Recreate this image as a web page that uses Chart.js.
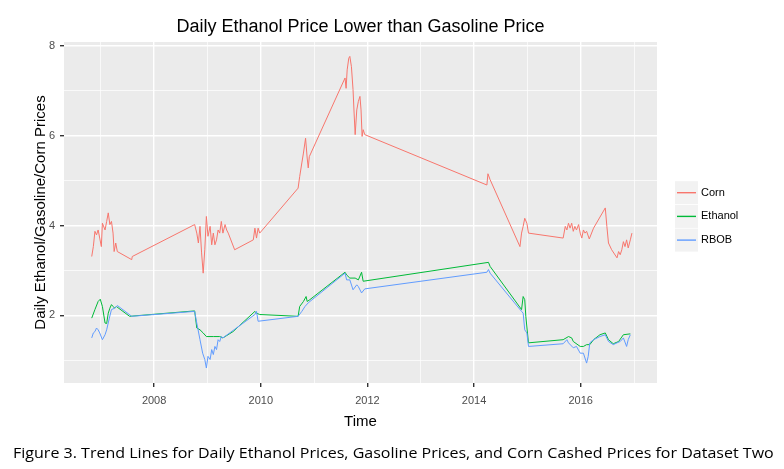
<!DOCTYPE html>
<html>
<head>
<meta charset="utf-8">
<script src="https://cdn.jsdelivr.net/npm/chart.js@4.4.0/dist/chart.umd.min.js"></script>
<style>
  body { margin: 0; background: #fff; }
  #wrap { position: relative; width: 784px; height: 469px; }
  #caption {
    position: absolute; left: 13px; top: 446px;
    font-family: "Open Sans", "Noto Sans", sans-serif; font-size: 14px; line-height: 1;
    color: #000; white-space: nowrap; transform-origin: 0 0;
  }
</style>
</head>
<body>
<div id="wrap">
  <canvas id="priceChart" width="784" height="469"></canvas>
  <span id="caption">Figure 3. Trend Lines for Daily Ethanol Prices, Gasoline Prices, and Corn Cashed Prices for Dataset Two</span>
</div>
<script>
// values (x = decimal year)
const cornDates = [2006.83, 2006.86, 2006.89, 2006.92, 2006.95, 2006.98, 2007.01, 2007.03, 2007.08, 2007.11, 2007.14, 2007.17, 2007.20, 2007.23, 2007.25, 2007.28, 2007.31, 2007.58, 2007.59,
  2008.76, 2008.80, 2008.83, 2008.86, 2008.89, 2008.92, 2008.95, 2008.98, 2009.01, 2009.05, 2009.08, 2009.11, 2009.14, 2009.17, 2009.20, 2009.23, 2009.26, 2009.29, 2009.33, 2009.36, 2009.39, 2009.51, 2009.86, 2009.89, 2009.92, 2009.95, 2009.98,
  2010.70, 2010.73, 2010.77, 2010.80, 2010.84, 2010.87, 2010.89, 2010.91, 2011.58, 2011.60, 2011.62, 2011.65, 2011.67, 2011.70, 2011.73, 2011.75, 2011.77, 2011.80, 2011.83, 2011.86, 2011.88, 2011.90, 2011.92, 2011.95,
  2014.24, 2014.26, 2014.30, 2014.86, 2014.89, 2014.92, 2014.95, 2014.99, 2015.02, 2015.67, 2015.71, 2015.74, 2015.77, 2015.80, 2015.83, 2015.86, 2015.89, 2015.92, 2015.96, 2015.99,
  2016.02, 2016.05, 2016.08, 2016.11, 2016.16, 2016.24, 2016.46, 2016.49, 2016.52, 2016.58, 2016.68, 2016.71, 2016.74, 2016.77, 2016.80, 2016.83, 2016.86, 2016.89, 2016.93, 2016.96];
const cornValues = [3.31, 3.53, 3.87, 3.79, 3.90, 3.72, 3.53, 4.05, 3.90, 4.09, 4.28, 4.02, 4.09, 3.83, 3.42, 3.61, 3.42, 3.24, 3.31,
  4.02, 3.83, 3.61, 3.98, 3.39, 2.94, 3.46, 4.20, 3.76, 3.98, 3.57, 3.83, 3.57, 3.68, 3.90, 3.83, 4.09, 3.83, 4.02, 3.90, 3.83, 3.46, 3.68, 3.94, 3.72, 3.94, 3.83,
  4.83, 5.09, 5.39, 5.61, 5.94, 5.50, 5.28, 5.53, 7.28, 7.05, 7.46, 7.72, 7.76, 7.53, 7.02, 6.50, 6.02, 6.57, 6.76, 6.87, 6.57, 5.98, 6.13, 6.02,
  4.90, 5.15, 5.02, 3.53, 3.83, 3.98, 4.16, 4.05, 3.83, 3.72, 3.98, 3.90, 4.05, 3.94, 4.05, 3.87, 3.98, 3.90, 4.02, 3.83,
  3.72, 3.90, 3.83, 3.87, 3.70, 3.94, 4.39, 3.98, 3.61, 3.46, 3.28, 3.42, 3.35, 3.46, 3.64, 3.53, 3.68, 3.50, 3.68, 3.83];

const ethDates = [2006.83, 2006.89, 2006.95, 2006.99, 2007.03, 2007.08, 2007.11, 2007.14, 2007.17, 2007.20, 2007.23, 2007.26, 2007.29, 2007.54,
  2008.76, 2008.80, 2008.86, 2008.92, 2008.98, 2009.11, 2009.23, 2009.29, 2009.48, 2009.89, 2009.92, 2009.98,
  2010.70, 2010.73, 2010.80, 2010.85, 2010.87, 2010.92, 2011.58, 2011.61, 2011.67, 2011.77, 2011.83, 2011.89, 2011.92,
  2014.27, 2014.30, 2014.89, 2014.92, 2014.95, 2014.97, 2015.02, 2015.67, 2015.77, 2015.83, 2015.86, 2015.99,
  2016.05, 2016.11, 2016.17, 2016.24, 2016.36, 2016.46, 2016.52, 2016.61, 2016.71, 2016.80, 2016.93];
const ethValues = [1.94, 2.13, 2.31, 2.36, 2.20, 1.83, 1.82, 2.05, 2.16, 2.24, 2.20, 2.16, 2.20, 1.98,
  2.10, 1.72, 1.68, 1.61, 1.53, 1.53, 1.53, 1.50, 1.64, 2.09, 2.05, 2.02,
  1.98, 2.20, 2.31, 2.42, 2.31, 2.35, 2.96, 2.90, 2.83, 2.83, 2.79, 2.96, 2.76,
  3.18, 3.09, 2.13, 2.42, 2.35, 1.98, 1.39, 1.46, 1.53, 1.50, 1.42, 1.31,
  1.31, 1.35, 1.35, 1.46, 1.57, 1.61, 1.46, 1.37, 1.42, 1.57, 1.59];

const rbobDates = [2006.83, 2006.86, 2006.89, 2006.92, 2006.95, 2006.98, 2007.03, 2007.08, 2007.11, 2007.16, 2007.20, 2007.26, 2007.31, 2007.58,
  2008.76, 2008.80, 2008.86, 2008.91, 2008.95, 2008.98, 2009.01, 2009.05, 2009.08, 2009.11, 2009.14, 2009.17, 2009.20, 2009.23, 2009.26, 2009.29, 2009.89, 2009.92, 2009.95,
  2010.70, 2010.77, 2010.83, 2010.89, 2011.58, 2011.61, 2011.67, 2011.73, 2011.80, 2011.83, 2011.89, 2011.95,
  2014.24, 2014.27, 2014.30, 2014.89, 2014.92, 2014.95, 2014.99, 2015.02, 2015.67, 2015.74, 2015.77, 2015.86, 2015.92, 2015.99,
  2016.05, 2016.11, 2016.14, 2016.17, 2016.24, 2016.36, 2016.46, 2016.52, 2016.61, 2016.68, 2016.74, 2016.80, 2016.86, 2016.89, 2016.93];
const rbobValues = [1.50, 1.61, 1.64, 1.72, 1.68, 1.61, 1.46, 1.57, 1.68, 1.94, 2.13, 2.16, 2.22, 1.98,
  2.09, 1.83, 1.46, 1.16, 1.02, 0.83, 1.09, 1.02, 1.24, 1.13, 1.31, 1.24, 1.46, 1.42, 1.53, 1.50, 2.02, 2.09, 1.87,
  1.98, 2.09, 2.20, 2.28, 2.94, 2.79, 2.79, 2.57, 2.68, 2.64, 2.50, 2.59,
  2.96, 3.02, 2.94, 2.09, 2.05, 1.68, 1.61, 1.31, 1.37, 1.46, 1.39, 1.28, 1.31, 1.16,
  1.16, 0.94, 1.09, 1.39, 1.46, 1.53, 1.57, 1.42, 1.35, 1.39, 1.42, 1.50, 1.31, 1.46, 1.57];

const xTicks = [2007, 2008, 2009, 2010, 2011, 2012, 2013, 2014, 2015, 2016, 2017];
const yTicks = [1, 2, 3, 4, 5, 6, 7, 8];

const toPoints = (xs, ys) => xs.map((x, i) => ({x: x, y: ys[i]}));
const isMajor = v => v % 2 === 0;

// grey panel background like ggplot
const panelBg = {
  id: 'panelBg',
  beforeDraw(chart) {
    const {ctx, chartArea: a} = chart;
    ctx.save();
    ctx.fillStyle = '#EBEBEB';
    ctx.fillRect(a.left, a.top, a.right - a.left, a.bottom - a.top);
    ctx.restore();
  }
};

// ggplot style legend with grey key boxes
const keyLegend = {
  id: 'keyLegend',
  afterDraw(chart) {
    const ctx = chart.ctx;
    const x0 = 675, size = 23, step = 23.7, cy0 = 192.7;
    ctx.save();
    chart.data.datasets.forEach((ds, i) => {
      const cy = cy0 + i * step;
      ctx.fillStyle = '#F2F2F2';
      ctx.fillRect(x0, cy - size / 2, size, size);
      ctx.strokeStyle = ds.borderColor;
      ctx.lineWidth = 1.4;
      ctx.beginPath();
      ctx.moveTo(x0 + 2, cy);
      ctx.lineTo(x0 + size - 2, cy);
      ctx.stroke();
      ctx.fillStyle = '#000';
      ctx.font = '11px "Liberation Sans", Arial, sans-serif';
      ctx.textBaseline = 'middle';
      ctx.fillText(ds.label, x0 + size + 3, cy);
    });
    ctx.restore();
  }
};

new Chart(document.getElementById('priceChart'), {
  type: 'line',
  data: {
    datasets: [
      {label: 'Corn', data: toPoints(cornDates, cornValues), borderColor: '#F8766D', order: 2},
      {label: 'Ethanol', data: toPoints(ethDates, ethValues), borderColor: '#00BA38', order: 1},
      {label: 'RBOB', data: toPoints(rbobDates, rbobValues), borderColor: '#619CFF', order: 0}
    ]
  },
  options: {
    responsive: false,
    animation: false,
    layout: {padding: {left: 0, right: 127, top: 0, bottom: 0}},
    elements: {
      line: {borderWidth: 1, tension: 0, fill: false},
      point: {radius: 0, hoverRadius: 0}
    },
    scales: {
      x: {
        type: 'linear',
        min: 2006.31,
        max: 2017.43,
        afterBuildTicks: s => { s.ticks = xTicks.map(v => ({value: v})); },
        afterFit: s => { s.height = 86; },
        border: {display: false},
        grid: {
          color: '#FFFFFF',
          lineWidth: c => (c.tick && isMajor(c.tick.value)) ? 1.4 : 0.7,
          tickColor: c => (c.tick && isMajor(c.tick.value)) ? '#333333' : 'rgba(0,0,0,0)',
          tickLength: 4
        },
        ticks: {
          autoSkip: false,
          maxRotation: 0,
          padding: 7,
          color: '#4D4D4D',
          font: {family: '"Liberation Sans", Arial, sans-serif', size: 11},
          callback: v => isMajor(v) ? String(v) : ''
        },
        title: {
          display: true,
          text: 'Time',
          color: '#000',
          font: {family: '"Liberation Sans", Arial, sans-serif', size: 15},
          padding: {top: 0, bottom: 38}
        }
      },
      y: {
        min: 0.497,
        max: 8.08,
        afterBuildTicks: s => { s.ticks = yTicks.map(v => ({value: v})); },
        afterFit: s => { s.width = 64; },
        border: {display: false},
        grid: {
          color: '#FFFFFF',
          lineWidth: c => (c.tick && isMajor(c.tick.value)) ? 1.4 : 0.7,
          tickColor: c => (c.tick && isMajor(c.tick.value)) ? '#333333' : 'rgba(0,0,0,0)',
          tickLength: 4
        },
        ticks: {
          padding: 5,
          color: '#4D4D4D',
          font: {family: '"Liberation Sans", Arial, sans-serif', size: 11},
          callback: v => isMajor(v) ? String(v) : ''
        },
        title: {
          display: true,
          text: 'Daily Ethanol/Gasoline/Corn Prices',
          color: '#000',
          font: {family: '"Liberation Sans", Arial, sans-serif', size: 15},
          padding: {top: 31.5, bottom: 0}
        }
      }
    },
    plugins: {
      legend: {display: false},
      tooltip: {enabled: false},
      title: {
        display: true,
        fullSize: false,
        text: 'Daily Ethanol Price Lower than Gasoline Price',
        color: '#000',
        font: {family: '"Liberation Sans", Arial, sans-serif', size: 18, weight: 'normal'},
        padding: {top: 16.3, bottom: 4.1}
      }
    }
  },
  plugins: [panelBg, keyLegend]
});

// squeeze the caption to the width it has in the figure
const cap = document.getElementById('caption');
cap.style.transform = 'scaleX(' + (761 / cap.offsetWidth) + ')';
</script>
</body>
</html>
